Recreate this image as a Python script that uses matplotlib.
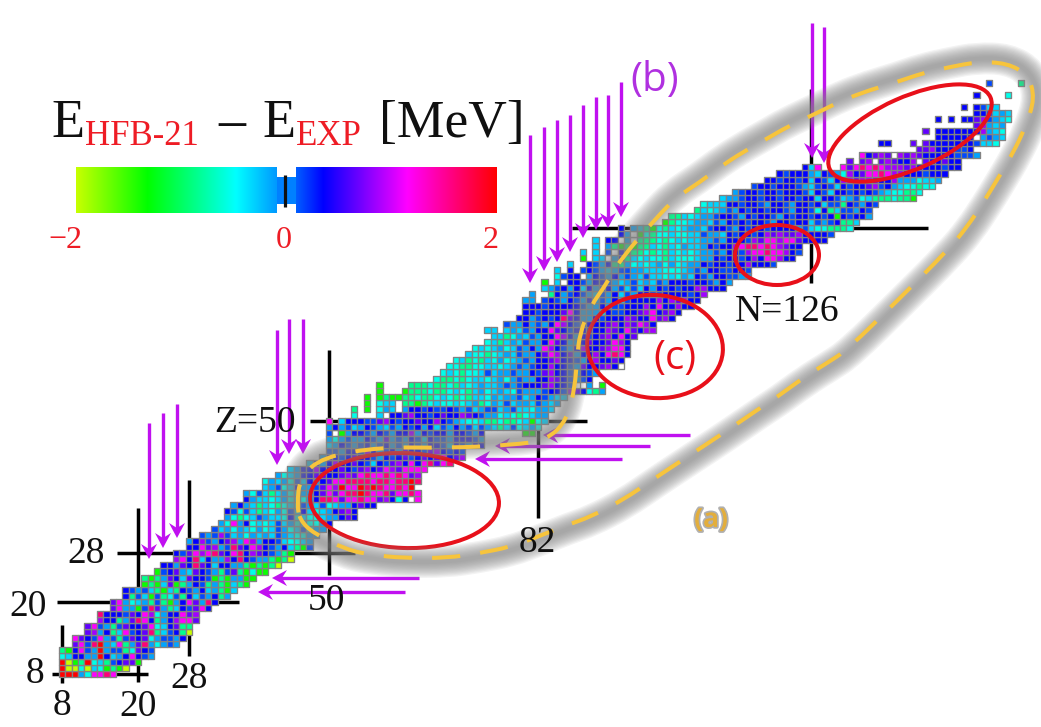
import numpy as np
import matplotlib
matplotlib.use("Agg")
import matplotlib.pyplot as plt
from matplotlib.colors import LinearSegmentedColormap, ListedColormap, Normalize
from matplotlib.collections import PolyCollection
from matplotlib.patches import Ellipse, Polygon, Rectangle, PathPatch
from matplotlib.path import Path
import matplotlib.patheffects as pe

# ---------------- data: one code per nucleus ----------------
CODE_VALUES = {'r': 2.0, 'h': 1.6, 'm': 1.15, 'v': 0.85, 'p': 0.65, 'b': 0.35, 'd': 0.15,
               'w': 0.0, 'a': -0.14, 'c': -0.32, 't': -0.55, 's': -0.85, 'g': -1.35, 'y': -2.0}

ROW_Z = list(range(8, 103)) + [104, 106]
ROW_NMIN = [8, 8, 8, 8, 8, 10, 10, 12, 12, 14, 14, 16, 16, 18, 18, 21, 21, 23, 24, 26, 26, 28, 28,
            30, 32, 33, 34, 34, 35, 37, 37, 40, 40, 42, 44, 47, 49, 50, 50, 50, 50, 50, 50,
            54, 54, 56, 56, 58, 58, 67, 68, 69, 70, 72, 73, 75, 76, 75, 78, 80, 81, 81, 81,
            82, 84, 84, 86, 86, 88, 90, 90, 92, 92, 96, 96, 103, 104, 108, 109, 112, 114, 117,
            119, 121, 125, 132, 134, 143, 137, 146, 144, 152, 146, 152, 150, 152, 154]
ROW_NMAX = [16, 18, 20, 22, 22, 26, 27, 28, 28, 29, 29, 31, 32, 34, 35, 37, 38, 40, 42, 44, 44, 47, 47,
            48, 49, 50, 54, 54, 57, 64, 64, 63, 64, 64, 65, 69, 71, 71, 74, 74, 82, 83, 84,
            84, 85, 86, 87, 93, 93, 91, 92, 96, 96, 97, 97, 97, 98, 101, 101, 104, 105, 107, 108,
            109, 112, 113, 116, 116, 120, 123, 124, 124, 128, 129, 132, 133, 135, 135, 136, 142, 143, 145,
            146, 147, 149, 149, 152, 151, 155, 156, 156, 156, 157, 157, 155, 157, 159]
ROW_CODES = [
    "rrratmmhm", "ryytyctgsgy", "rygsrtcsdbppg", "tcbbaarbcabmbda", "sgbmdaraddstpbd",
    "pmdhracmsaphatada", "mpbdmadsdpbptaddab", "pvabscmdbphscdbsy", "pmdasdpbbpmtcbpss",
    "vbbsaphmbsabvmmp", "hbbbdpbmvtabbmpv", "pmaagdhpascbdpmb", "pmatcasdsgabmpahb",
    "bsdcgdstdsbcdabsa", "bdadcsgcsbdabcasgc", "gsgcpgsabdsasgcsg", "sgsapbcpbbdgsgaagg",
    "gdbpacpbdasdpsgtgg", "bbapbhpbcbbaasgsgsy", "vmbhcbaavbhbdaasgsy", "bdpmvmhpbmhbvpbdasg",
    "bbmpvadhpbmvbdabcsgd", "abvdabpvamvabbdcttca", "dadvdcatacacdacttaa", "dcatactatcdatcdtaa",
    "atmabtctcdcatcttab", "atstcdacctbtcttcaabpb", "bdtdcsctatdcbctcabpvb", "abacsctstctdacdtcaabpbb",
    "bacctcatctabhhmpmmhmmpvbtbwm", "atdcscatcaabpmpmhhrhmmhpmmhm", "cadtcbaadpmvrmmrhrhmmhmr",
    "tacatdcbabpmmhhhhmhhmhhrh", "atcabbppbbpvpmhmmhmhmpv", "cabbvbbbpbdpvbpmvpmmmm",
    "cbabvbbpbdcbdpvbmbmhpmh", "abbdbpbbdabdbpdbpbpmbpv", "ddabbdvbadbapbbdpvbdbd",
    "cabdadbadbadabdabbdcbdabb", "atadaabdapadabdcbddabbbda", "dwgabbdabdabbvabdbbabbdab      g",
    "abadcabdacdabdbabcdabadcdacscdtcat", "m cbbbddpvbdbbpbbvbdacttcsstsstcgtc",
    "t   c bbpvbbdbpbbvpbdaatctstcaa", "s g tac abbdbddbdadcaddcadcctaac",
    "g tcc ssgstcttctcastacdcaacdaca", "g gsggsstsstctstscctacaadcabdac",
    "g   gssstsstctscatcactdaaadbbdvpbtsa", "g    ssstsstsctcaccadadbbbpvbbdw a g",
    "tsststcctcatadaabbvpbdadb", "tctsttcdcaadaabdpvbbdabda", "ttssttcctcadadbbvbbdapbbpvbw",
    "tcstsctatcadabbpvbbdabvbbpb", "cttstcacdaabpmvbpabbvbmhmb", "tctcatcdabamvbdabvbbpvmmb",
    "tcscacdaabmpbaabpbbpmvb", "ccstacdabbmvbabdbpvbmbp", "cc cacdabbmpbdbbdbbvpbmpbv",
    "daabadabmvbddbbbpvbvpmvb", "bbadbdbhpbaabdbbbvpbbmpvb", "bbdbbbpmbaaacbddbbpvmbpvb",
    "bbbdbbbbbdaabaddbbbvbmbbvbb", "aa dbdabdabadabcdbbbbvbvpvbb", "a  sbadbdacdabcdabbddbbbbdbvb",
    "cadbabcbadbadcdcbabdbdbbvvbbb", "g cwbbdabbdacadcacdabbbdbbdaba", "tdbbwabdabadacdcctctacbdabbddaa",
    "c b dbdacaddaaccctttcadabbddbbdd", "c  bdabssatctcatatcaabdbbdbbvbbbd",
    "g ccwabsctcttsctttcaabdbbdbvbmmvbb", "c c dwbgsststsctctcaadabbdvmmhmmvbd",
    "c asgsgssctsctaccabdbbvmhhmhmvpbb", "c bb awssststctccaadabbbdvpmmvmmpbbbb",
    "bawgtsttcttccdaacbdbbdbvpvppvbbbbd", "b acsgtsctcaacdbbdabdbbdbbbbadcttssstt",
    "gsttcaacdabdbdbbdabbdbbcdadbssc", "ssctcaadbbdabdbbdabdbbdbdbgbdbba",
    "sctcadabdbbdbbdabbdtbscddabd", "tcccbbdbbdabbdabbdbcddsbdabd",
    "caadbbdbbdbbdbbcbbdcadtcssstssg", "adbbdbbdbbbdcbdcbbdbdbdacttsst",
    "dbbdbbbdacdbdcbdbbpvdbacttstt", "bbdbbdbcbdcbvvpvvpbbvaaatcca",
    "bdbbbacbdatvbpmmhmvvbbbdbbb", "bcm   mpmhmhmvvvpvbbbbdbb", "p pvwpvpbbvwpbbpbb",
    "mbpvpwvpvpbbbbbddda", "ppvbbbddb", "bb   p pbbbbbbbdcct", "bbbbbbwadac",
    "p bbbbbbbvact", "pvaca", "b b bbpvdact", "bbdcac", "b bdcc", "b    t", "d    s",
]

MAGIC_Z = [8, 20, 28, 50, 82]
MAGIC_Z_SPAN = [(6.4, 21.5), (7.2, 35.9), (16.7, 54.1), (47.0, 90.7), (88.3, 144.4)]
MAGIC_N = [8, 20, 28, 50, 82.9, 126]
MAGIC_N_SPAN = [(6.5, 16.1), (6.7, 35.5), (11.0, 40.2), (24.4, 61.7), (33.9, 50.0), (72.8, 105.0)]

VERT_X = [149, 163, 177, 277, 289, 303, 530, 544, 557, 570, 583, 596, 608, 621, 812, 824]
VERT_TOP = [423, 413, 404, 330, 319, 319, 135, 127, 120, 115, 105, 97, 95, 82, 23, 27]
VERT_TIP = [559, 548, 538, 465, 454, 454, 283, 271, 262, 252, 238, 230, 228, 217, 158, 163]
HORI_Y = [578, 592, 435, 446, 459]
HORI_TAIL = [419, 405, 690, 650, 622]
HORI_TIP = [272, 258, 543, 495, 475]

# ---------------- scales ----------------
W, H = 1041, 727
PX_N, PX_Z = 6.35, 6.03
ANCHORS = [(-2.0, '#c8ff00'), (-1.32, '#00ff00'), (-0.48, '#00ffff'), (0.0, '#0080ff'),
           (0.35, '#0000ff'), (1.15, '#ff00ff'), (2.0, '#ff0000')]
bar_cmap = LinearSegmentedColormap.from_list('hfb', [((v + 2) / 4, c) for v, c in ANCHORS], N=800)
lut = bar_cmap(np.arange(800))
lut[396:404] = (1, 1, 1, 1)
cell_cmap = ListedColormap(lut)
norm = Normalize(-2, 2)

fig = plt.figure(figsize=(W / 100, H / 100), dpi=100, facecolor='white')
ax = fig.add_axes([0, 0, 1, 1])
ax.set_xlim(8 - 62 / PX_N, 8 + (W - 62) / PX_N)
ax.set_ylim(8 + (674 - H) / PX_Z, 8 + 674 / PX_Z)
ax.axis('off')

# magic-number lines
for z, (a, b) in zip(MAGIC_Z, MAGIC_Z_SPAN):
    ax.plot([a, b], [z, z], color='black', lw=2.5, solid_capstyle='butt', zorder=1)
for n, (a, b) in zip(MAGIC_N, MAGIC_N_SPAN):
    ax.plot([n, n], [a, b], color='black', lw=2.5, solid_capstyle='butt', zorder=1)

# nuclei: one square per measured nucleus
squares, values = [], []
for z, n0, n1, codes in zip(ROW_Z, ROW_NMIN, ROW_NMAX, ROW_CODES):
    width = n1 - n0 + 1
    codes = (codes + codes[-1] * width)[:width]
    for i, ch in enumerate(codes):
        if ch != ' ':
            n = n0 + i
            squares.append([(n - .5, z - .5), (n + .5, z - .5), (n + .5, z + .5), (n - .5, z + .5)])
            values.append(CODE_VALUES[ch])
cells = PolyCollection(squares, array=np.array(values), cmap=cell_cmap, norm=norm,
                       edgecolors='#828282', linewidths=0.95, zorder=2)
ax.add_collection(cells)

# overlay in image pixels
ov = fig.add_axes([0, 0, 1, 1], facecolor='none')
ov.axis('off')

PURPLE = '#c010f0'
for x, t, tip in zip(VERT_X, VERT_TOP, VERT_TIP):
    ov.plot([x, x], [t, tip - 9], color=PURPLE, lw=2.4, solid_capstyle='butt', zorder=3)
    ov.add_patch(Polygon([(x, tip), (x - 8, tip - 15), (x, tip - 10), (x + 8, tip - 15)],
                         fc=PURPLE, ec='none', zorder=3))
for y, t, tip in zip(HORI_Y, HORI_TAIL, HORI_TIP):
    ov.plot([t, tip + 9], [y, y], color=PURPLE, lw=2.4, solid_capstyle='butt', zorder=3)
    ov.add_patch(Polygon([(tip, y), (tip + 15, y - 8), (tip + 10, y), (tip + 15, y + 8)],
                         fc=PURPLE, ec='none', zorder=3))

# red ellipses
RED = '#e8101a'
for (cx, cy, w, h, ang) in [(404.5, 500.5, 189, 95, 2), (655, 346.5, 136, 103, 5),
                            (777, 255, 84, 60, 0), (910, 133, 176, 72, -24)]:
    ov.add_patch(Ellipse((cx, cy), w, h, angle=ang, fc='none', ec=RED, lw=2.9, zorder=4))

# outlined region: grey glow and dashed yellow line
outline = [(297, 505), (300, 477), (323, 457), (380, 447), (447, 448), (513, 445), (547, 440), (567, 420),
           (575, 387), (577, 357), (580, 333), (590, 307), (607, 283), (620, 260), (657, 217), (677, 197),
           (700, 182), (720, 167), (743, 152), (770, 137), (787, 127), (817, 113), (843, 100), (870, 90),
           (897, 82), (923, 73), (950, 67), (977, 62), (1007, 63), (1028, 75), (1035, 98), (1025, 128),
           (1013, 153), (997, 180), (983, 203), (967, 227), (948, 250), (898, 300), (847, 350), (827, 363),
           (803, 378), (777, 397), (760, 408), (725, 432), (690, 455), (655, 478), (623, 500), (590, 517),
           (567, 525), (537, 537), (510, 547), (480, 553), (447, 558), (403, 558), (373, 555), (347, 550),
           (313, 533), (300, 520)]
pts = np.array(outline, float)
mids = (pts + np.roll(pts, -1, axis=0)) / 2
verts = [tuple(mids[-1])]
codes_ = [Path.MOVETO]
for p, m in zip(pts, mids):
    verts += [tuple(p), tuple(m)]
    codes_ += [Path.CURVE3, Path.CURVE3]
loop = Path(verts, codes_)

# glow sits a few pixels outward from the dashes
flat = loop.interpolated(1).to_polygons(closed_only=False)[0]
flat = loop.to_polygons(closed_only=False)[0]
if np.allclose(flat[0], flat[-1]):
    flat = flat[:-1]
tang = np.roll(flat, -1, axis=0) - np.roll(flat, 1, axis=0)
tang /= np.maximum(np.hypot(tang[:, 0], tang[:, 1]), 1e-9)[:, None]
normal = np.column_stack([tang[:, 1], -tang[:, 0]])
area = 0.5 * np.sum(flat[:, 0] * np.roll(flat[:, 1], -1) - np.roll(flat[:, 0], -1) * flat[:, 1])
normal *= np.sign(area)
glow = Path(np.vstack([flat + 4 * normal, (flat + 4 * normal)[:1]]), closed=True)
for lw in np.linspace(23, 3, 12):
    ov.add_patch(PathPatch(glow, fc='none', ec='#858585', lw=lw, alpha=0.095, zorder=5))
ov.add_patch(PathPatch(loop, fc='none', ec='#f7c43c', lw=2.9, linestyle=(0, (7, 5)), zorder=6))

# colour bar
ramp = np.linspace(-2, 2, 800)[None, :]
ov.imshow(ramp, cmap=bar_cmap, norm=norm, extent=(76, 497, 213.5, 167.5), aspect='auto', zorder=3)
ov.add_patch(Rectangle((276.5, 166), 19.5, 11, fc='white', ec='none', zorder=4))
ov.add_patch(Rectangle((276.5, 204), 19.5, 11, fc='white', ec='none', zorder=4))
ov.add_patch(Rectangle((276.5, 177), 19.5, 27, fc='#0080ff', ec='none', zorder=4))
ov.plot([284.5, 284.5], [175, 207], color='#101010', lw=2.3, solid_capstyle='butt', zorder=5)

ov.set_xlim(0, W)
ov.set_ylim(H, 0)

SERIF = 'Liberation Serif'
TXT = dict(family=SERIF, zorder=7, va='baseline')
ov.text(51, 137, 'E', fontsize=39, color='#101010', **TXT)
ov.text(85, 145, 'HFB-21', fontsize=25, color='#ee1c25', **TXT)
ov.text(218, 137, '\u2013', fontsize=39, color='#101010', **TXT)
ov.text(262, 137, 'E', fontsize=39, color='#101010', **TXT)
ov.text(296, 145, 'EXP', fontsize=25, color='#ee1c25', **TXT)
ov.text(379, 137, '[MeV]', fontsize=38.5, color='#101010', **TXT)
ov.text(65, 248, '\u22122', fontsize=23, color='#ee1c25', ha='center', **TXT)
ov.text(284, 248, '0', fontsize=23, color='#ee1c25', ha='center', **TXT)
ov.text(491, 248, '2', fontsize=23, color='#ee1c25', ha='center', **TXT)

for s, x, y in [('8', 35, 683), ('8', 62, 715), ('20', 138, 716), ('28', 189, 688), ('28', 86, 563),
                ('20', 28, 616), ('Z=50', 255, 432), ('50', 326, 610), ('82', 537, 552), ('N=126', 787, 321)]:
    ov.text(x, y, s, fontsize=27, color='#101010', ha='center', **TXT)

ov.text(655, 91, '(b)', fontsize=29, color='#b030e0', family='Open Sans', ha='center', va='baseline', zorder=7)
ov.text(675, 369, '(c)', fontsize=29, color=RED, family='Open Sans', ha='center', va='baseline', zorder=7)
ov.text(711, 527, '(a)', fontsize=19, color='#e3ae3c', family='Open Sans', fontweight='bold', ha='center',
        va='baseline', zorder=7, path_effects=[pe.withStroke(linewidth=2.5, foreground='#b0b0b0')])

fig.savefig('out.png', dpi=100, facecolor='white')
